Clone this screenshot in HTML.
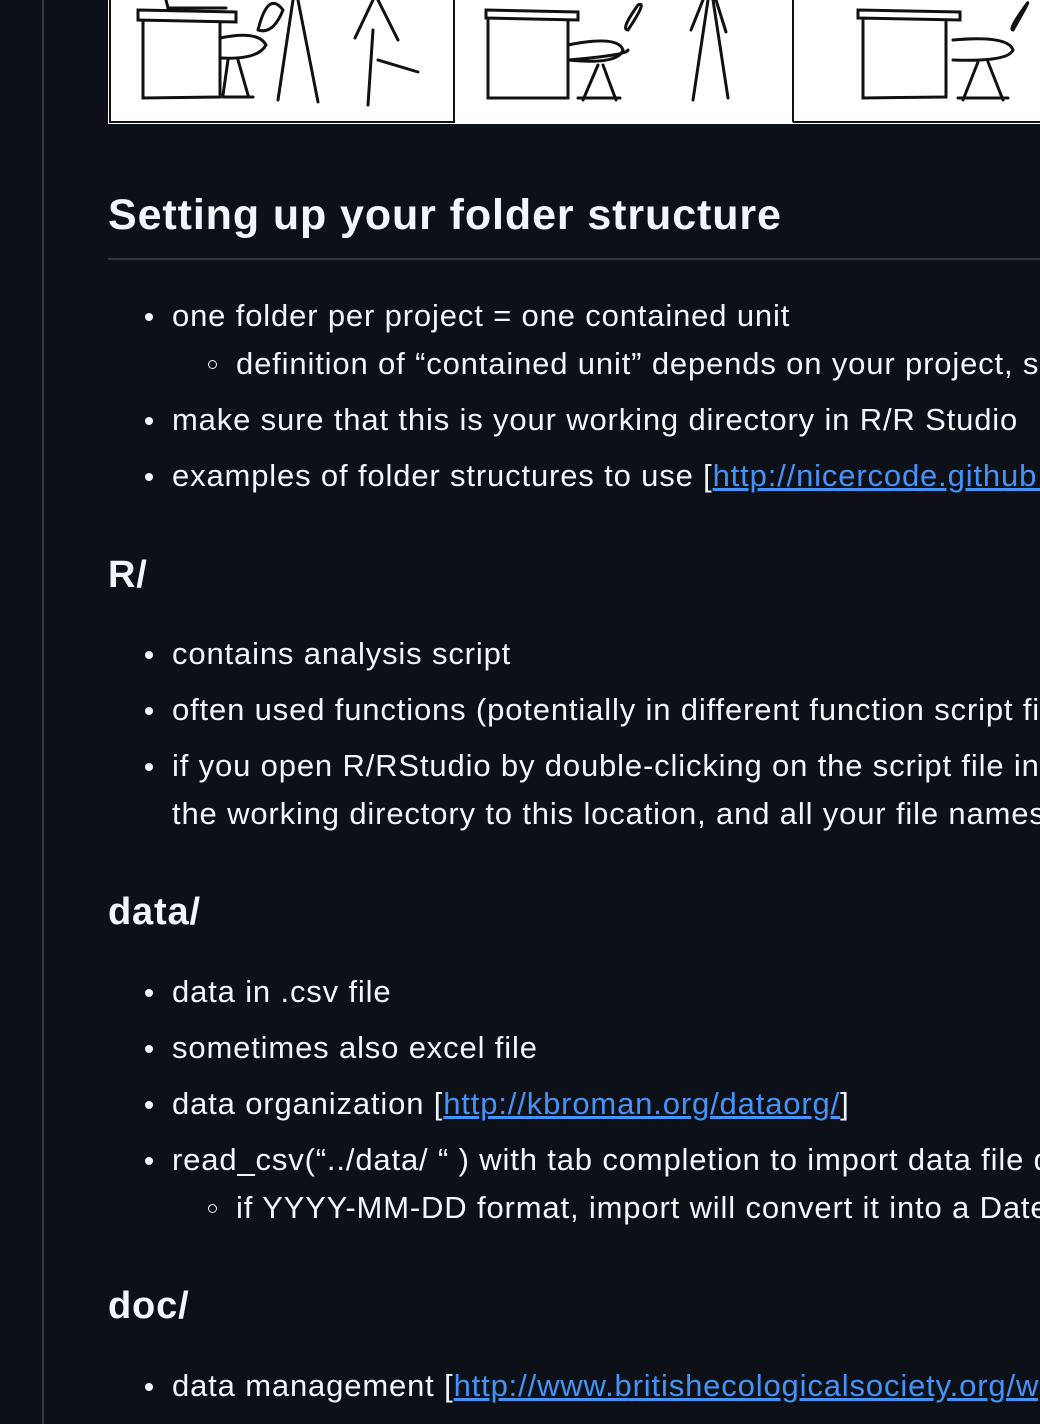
<!DOCTYPE html>
<html><head><meta charset="utf-8"><style>
html,body{margin:0;padding:0;width:1040px;height:1424px;overflow:hidden;background:#0d1117;}
body{position:relative;font-family:"Liberation Sans",sans-serif;color:#f0f6fc;}
.vl{position:absolute;left:42px;top:0;width:2px;height:1424px;background:#30363d;}
.t{position:absolute;white-space:nowrap;line-height:40px;font-size:31px;letter-spacing:0.85px;}
.h{font-weight:bold;}
.b{position:absolute;width:8px;height:8px;border-radius:50%;background:#f0f6fc;}
.s{position:absolute;width:7px;height:7px;border-radius:50%;border:1.5px solid #f0f6fc;}
a{color:#4493f8;text-decoration:underline;}
</style></head><body>
<div class="vl"></div>
<svg style="position:absolute;left:108px;top:0;display:block" width="932" height="124" viewBox="0 0 932 124">
<rect x="0" y="0" width="932" height="124" fill="#fff"/>
<rect x="2" y="-5" width="344" height="127" fill="none" stroke="#111" stroke-width="2"/>
<line x1="685" y1="0" x2="685" y2="122" stroke="#111" stroke-width="2"/>
<line x1="685" y1="122" x2="932" y2="122" stroke="#111" stroke-width="2"/>
<g fill="none" stroke="#111" stroke-width="3" stroke-linecap="round">
<path d="M30 10 L128 12 L128 22 L30 20 Z M35 20 L35 98 L112 97 L112 22 M58 0 L60 8 L118 8"/>
<path d="M112 38 Q150 30 158 45 Q150 60 112 58 M120 60 L115 95 M130 60 L140 95 M115 97 L145 97"/>
<path d="M150 30 Q160 -10 175 10 Q165 35 150 30 M185 0 L170 100 M190 0 L210 102 M265 0 L247 38 M270 0 L290 40 M265 30 L260 105 M270 60 L310 72"/>
<path d="M378 10 L470 12 L470 20 L378 18 Z M380 18 L380 98 L410 98 M460 20 L460 98 L410 98"/>
<path d="M460 45 Q510 35 515 50 Q510 65 460 60 Q520 55 520 50 M490 65 L475 100 M495 65 L508 100 M470 98 L512 98 M520 30 Q540 0 530 5 Q512 30 520 30"/>
<path d="M600 0 L585 100 M605 0 L620 98 M595 0 L583 30 M608 0 L618 32"/>
<path d="M750 10 L852 12 L852 20 L750 18 Z M755 18 L755 98 L838 97 L838 22"/>
<path d="M845 40 Q900 35 905 50 Q900 62 845 60 M870 62 L855 100 M880 62 L895 100 M850 98 L900 98 M905 30 Q925 -5 918 5 Q900 30 905 30"/>
</g>
</svg>
<div class="t h" style="left:108px;top:193px;font-size:43px;line-height:44px;letter-spacing:0.9px">Setting up your folder structure</div>
<div style="position:absolute;left:108px;top:258px;width:932px;height:2px;background:#30363d"></div>

<div class="b" style="left:145px;top:313px"></div><div class="t" style="left:172px;top:296px">one folder per project = one contained unit</div>
<div class="s" style="left:208px;top:360px"></div><div class="t" style="left:236px;top:344px">definition of “contained unit” depends on your project, so</div>
<div class="b" style="left:145px;top:417px"></div><div class="t" style="left:172px;top:400px">make sure that this is your working directory in R/R Studio</div>
<div class="b" style="left:145px;top:473px"></div><div class="t" style="left:172px;top:456px">examples of folder structures to use [<a>http://nicercode.github.io/</a></div>

<div class="t h" style="left:108px;top:555px;font-size:38px">R/</div>
<div class="b" style="left:145px;top:651px"></div><div class="t" style="left:172px;top:634px">contains analysis script</div>
<div class="b" style="left:145px;top:707px"></div><div class="t" style="left:172px;top:690px">often used functions (potentially in different function script files)</div>
<div class="b" style="left:145px;top:763px"></div><div class="t" style="left:172px;top:746px">if you open R/RStudio by double-clicking on the script file in R/, it sets</div>
<div class="t" style="left:172px;top:794px">the working directory to this location, and all your file names</div>

<div class="t h" style="left:108px;top:892px;font-size:38px">data/</div>
<div class="b" style="left:145px;top:989px"></div><div class="t" style="left:172px;top:972px">data in .csv file</div>
<div class="b" style="left:145px;top:1045px"></div><div class="t" style="left:172px;top:1028px">sometimes also excel file</div>
<div class="b" style="left:145px;top:1101px"></div><div class="t" style="left:172px;top:1084px">data organization [<a>http://kbroman.org/dataorg/</a>]</div>
<div class="b" style="left:145px;top:1157px"></div><div class="t" style="left:172px;top:1140px">read_csv(“../data/ “ ) with tab completion to import data file dates</div>
<div class="s" style="left:208px;top:1204px"></div><div class="t" style="left:236px;top:1188px">if YYYY-MM-DD format, import will convert it into a Date</div>

<div class="t h" style="left:108px;top:1286px;font-size:38px">doc/</div>
<div class="b" style="left:145px;top:1383px"></div><div class="t" style="left:172px;top:1366px">data management [<a>http://www.britishecologicalsociety.org/wp-content</a></div>
<div class="t" style="left:172px;top:1420px">DataManagement.pdf]</div>
</body></html>
